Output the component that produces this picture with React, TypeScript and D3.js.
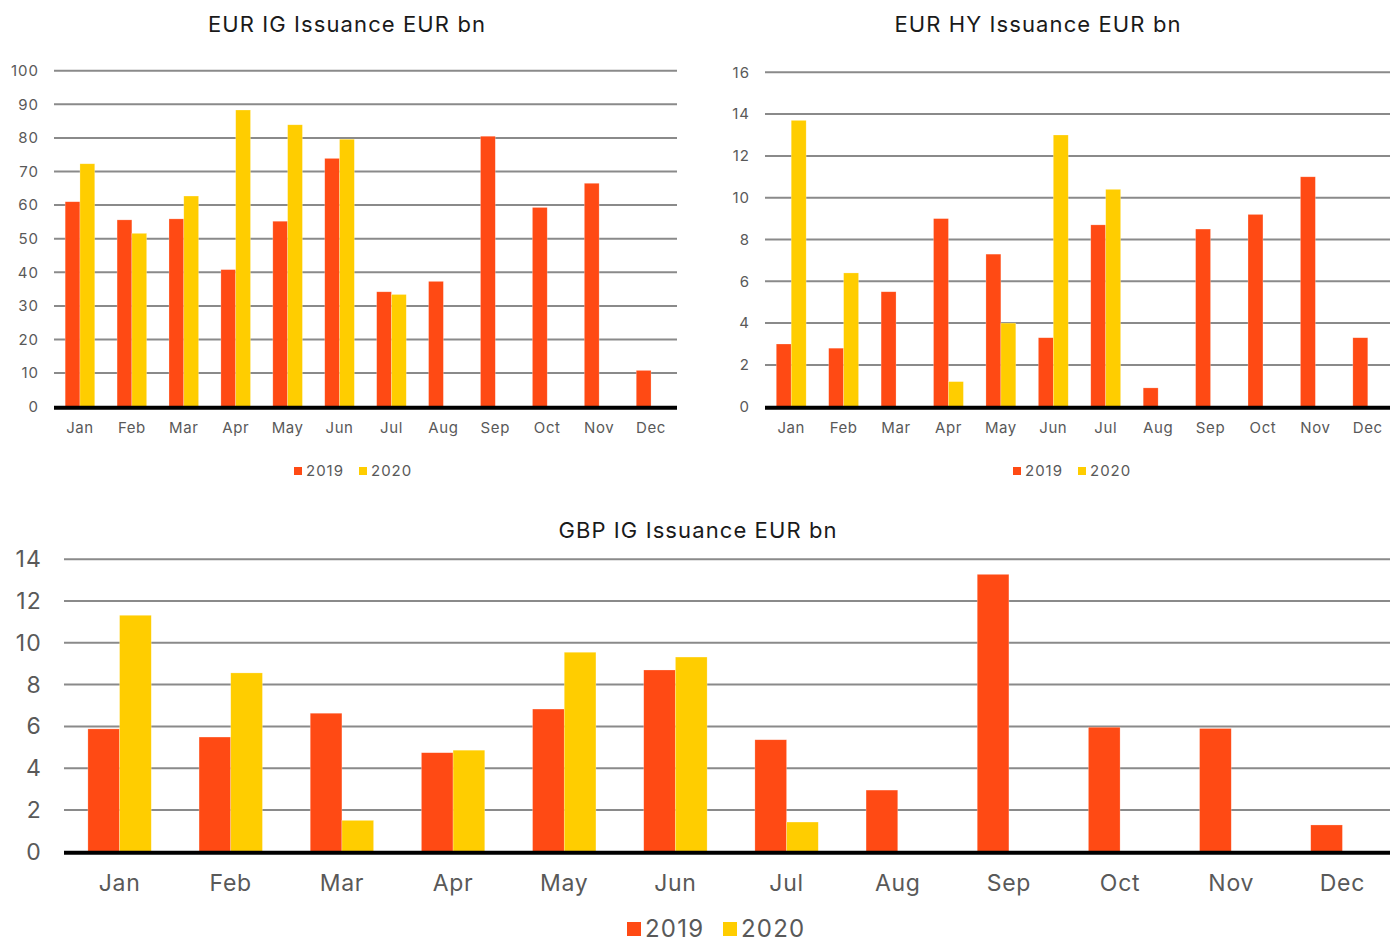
import * as d3 from "d3";
import React from "react";

const months = ["Jan", "Feb", "Mar", "Apr", "May", "Jun", "Jul", "Aug", "Sep", "Oct", "Nov", "Dec"];
const years = ["2019", "2020"];

const eurIg2019 = [61, 55.6, 55.9, 40.8, 55.2, 73.9, 34.2, 37.3, 80.5, 59.3, 66.5, 10.8];
const eurIg2020 = [72.3, 51.6, 62.7, 88.3, 83.9, 79.6, 33.4, null, null, null, null, null];
const eurIgTicks = [0, 10, 20, 30, 40, 50, 60, 70, 80, 90, 100];

const eurHy2019 = [3.0, 2.8, 5.5, 9.0, 7.3, 3.3, 8.7, 0.9, 8.5, 9.2, 11.0, 3.3];
const eurHy2020 = [13.7, 6.4, null, 1.2, 4.0, 13.0, 10.4, null, null, null, null, null];
const eurHyTicks = [0, 2, 4, 6, 8, 10, 12, 14, 16];

const gbpIg2019 = [5.88, 5.49, 6.63, 4.74, 6.83, 8.7, 5.36, 2.95, 13.28, 5.96, 5.9, 1.28];
const gbpIg2020 = [11.32, 8.56, 1.5, 4.86, 9.55, 9.32, 1.42, null, null, null, null, null];
const gbpIgTicks = [0, 2, 4, 6, 8, 10, 12, 14];

const colors = ["#FF4A14", "#FFCD00"];
const font = "Inter, 'Open Sans', sans-serif";

type PanelProps = {
  title: string;
  s2019: (number | null)[];
  s2020: (number | null)[];
  ticks: number[];
  x0: number;
  x1: number;
  yTop: number;
  yBase: number;
  titleX: number;
  titleY: number;
  tickX: number;
  tickSize: number;
  labelY: number;
  labelSize: number;
  titleSize: number;
  legendX: number;
  legendY: number;
  legendSize: number;
  legendSq: number;
  legendGap: number;
  spacing: number;
};

const Panel = (p: PanelProps) => {
  const x = d3.scaleBand<string>().domain(months).range([p.x0, p.x1]).paddingInner(0.43).paddingOuter(0.215);
  const inner = d3.scaleBand<string>().domain(years).range([0, x.bandwidth()]);
  const y = d3.scaleLinear().domain([0, p.ticks[p.ticks.length - 1]]).range([p.yBase, p.yTop]);
  const series = [p.s2019, p.s2020];

  return (
    <g>
      <text x={p.titleX} y={p.titleY} textAnchor="middle" fontSize={p.titleSize} fill="#1a1a1a" letterSpacing={1.1}>
        {p.title}
      </text>
      {p.ticks.map((t) => (
        <g key={t}>
          {t > 0 && <line x1={p.x0} x2={p.x1} y1={y(t)} y2={y(t)} stroke="#8a8a8a" strokeWidth={2} />}
          <text
            x={p.tickX}
            y={y(t)}
            dy="0.35em"
            textAnchor="end"
            fontSize={p.tickSize}
            fill="#595959"
            letterSpacing={p.spacing}
          >
            {t}
          </text>
        </g>
      ))}
      {series.map((s, si) =>
        s.map((v, i) =>
          v == null ? null : (
            <rect
              key={si + "-" + i}
              x={(x(months[i]) as number) + (inner(years[si]) as number)}
              y={y(v)}
              width={inner.bandwidth()}
              height={y(0) - y(v)}
              fill={colors[si]}
              stroke="#ffffff"
              strokeOpacity={0.4}
              strokeWidth={0.6}
            />
          )
        )
      )}
      <line x1={p.x0} x2={p.x1} y1={y(0) + 1} y2={y(0) + 1} stroke="#000" strokeWidth={4} />
      {months.map((m) => (
        <text
          key={m}
          x={(x(m) as number) + x.bandwidth() / 2}
          y={p.labelY}
          dy="0.35em"
          textAnchor="middle"
          fontSize={p.labelSize}
          fill="#595959"
          letterSpacing={p.spacing * 0.6}
        >
          {m}
        </text>
      ))}
      {years.map((yr, i) => {
        const lx = p.legendX + i * p.legendGap;
        return (
          <g key={yr}>
            <rect x={lx} y={p.legendY - p.legendSq / 2} width={p.legendSq} height={p.legendSq} fill={colors[i]} />
            <text
              x={lx + p.legendSq + 4}
              y={p.legendY}
              dy="0.35em"
              fontSize={p.legendSize}
              fill="#595959"
              letterSpacing={p.spacing}
            >
              {yr}
            </text>
          </g>
        );
      })}
    </g>
  );
};

const App = () => {
  return (
    <svg
      width={1390}
      height={945}
      style={{ position: "absolute", left: 0, top: 0, fontFamily: font, background: "#fff" }}
    >
      <Panel
        title="EUR IG Issuance EUR bn"
        s2019={eurIg2019}
        s2020={eurIg2020}
        ticks={eurIgTicks}
        x0={54}
        x1={677}
        yTop={70.7}
        yBase={406.7}
        titleX={347}
        titleY={32}
        titleSize={22}
        tickX={39}
        tickSize={15}
        labelY={428}
        labelSize={15}
        legendX={294}
        legendY={471}
        legendSize={15}
        legendSq={8}
        legendGap={65}
        spacing={1}
      />
      <Panel
        title="EUR HY Issuance EUR bn"
        s2019={eurHy2019}
        s2020={eurHy2020}
        ticks={eurHyTicks}
        x0={765}
        x1={1394}
        yTop={72.3}
        yBase={406.7}
        titleX={1038}
        titleY={32}
        titleSize={22}
        tickX={750}
        tickSize={15}
        labelY={428}
        labelSize={15}
        legendX={1013}
        legendY={471}
        legendSize={15}
        legendSq={8}
        legendGap={65}
        spacing={1}
      />
      <Panel
        title="GBP IG Issuance EUR bn"
        s2019={gbpIg2019}
        s2020={gbpIg2020}
        ticks={gbpIgTicks}
        x0={64}
        x1={1398}
        yTop={559.3}
        yBase={851.7}
        titleX={698}
        titleY={538}
        titleSize={22}
        tickX={42}
        tickSize={23}
        labelY={883}
        labelSize={23}
        legendX={627}
        legendY={929}
        legendSize={24}
        legendSq={14}
        legendGap={96}
        spacing={1.2}
      />
    </svg>
  );
};

export default App;
